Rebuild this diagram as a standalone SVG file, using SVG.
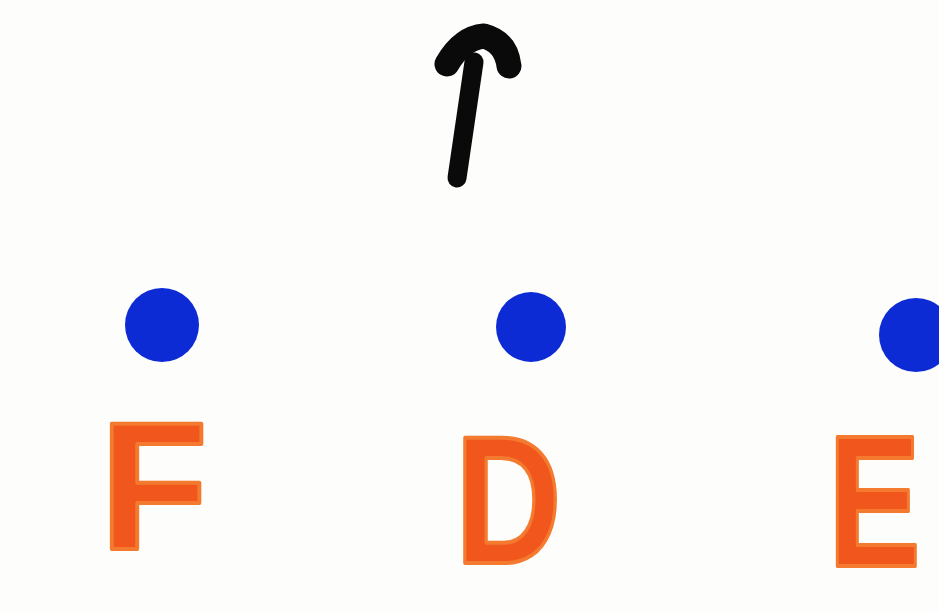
<svg xmlns="http://www.w3.org/2000/svg" width="939" height="612" viewBox="0 0 939 612">
<style>
.ink{fill:none;stroke:#0a0a0a;stroke-linecap:round;stroke-linejoin:round}
.dot{fill:#0d2bd4}
.lbl{font-family:"Liberation Sans","DejaVu Sans",sans-serif;font-weight:bold;fill:#f1561c;stroke:#f37a2e;stroke-width:4;stroke-linejoin:round}
</style>
<rect width="939" height="612" fill="#fdfdfc"/>
<g id="arrow">
<path class="ink" d="M457 178 L474 62" stroke-width="19"/>
<path class="ink" d="M447 64 Q462 38 484 36 Q506 42 509 66" stroke-width="25"/>
</g>
<g id="nodeF">
<circle class="dot" cx="162" cy="325" r="37"/>
<text class="lbl" transform="translate(100,549) scale(0.97,1)" font-size="182">F</text>
</g>
<g id="nodeD">
<circle class="dot" cx="531" cy="327" r="35"/>
<text class="lbl" transform="translate(455,563) scale(0.81,1)" font-size="182">D</text>
</g>
<g id="nodeE">
<circle class="dot" cx="916" cy="335" r="37"/>
<text class="lbl" transform="translate(828,566) scale(0.74,1)" font-size="188">E</text>
</g>
</svg>
